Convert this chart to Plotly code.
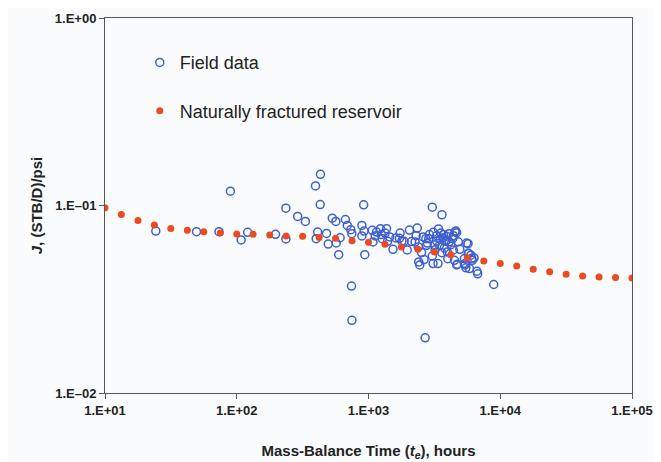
import plotly.graph_objects as go

# Naturally fractured reservoir model curve
nfr_time = [10, 13.3, 17.8, 23.7, 31.6, 42.2, 56.2, 75.0, 100, 133, 178, 237, 316, 422,
            562, 750, 1000, 1334, 1778, 2371, 3162, 4217, 5623, 7499, 10000, 13335,
            17783, 23714, 31623, 42170, 56234, 74989, 100000]
nfr_j = [0.0972, 0.0896, 0.0832, 0.0786, 0.0755, 0.0737, 0.0725, 0.0713, 0.0705, 0.0702,
         0.0696, 0.0688, 0.0685, 0.0676, 0.0668, 0.0649, 0.0636, 0.0621, 0.0601, 0.0584,
         0.0565, 0.0547, 0.0527, 0.0506, 0.0490, 0.0476, 0.0457, 0.0443, 0.0430, 0.0421,
         0.0416, 0.0413, 0.0411]

# Field data
field_time = [24.3, 49.5, 73.3, 89.5, 108, 121, 197, 236, 236, 290, 332, 396, 401, 411,
              432, 430, 480, 495, 531, 565, 569, 594, 609, 668, 690, 734, 748, 743, 748,
              891, 891, 919, 937, 925, 1068, 1081, 1123, 1151, 1233, 1272, 1337, 1371,
              1397, 1534, 1613, 1738, 1717, 1793, 1862, 1969, 2045, 2123, 2259, 2346,
              2389, 2405, 2450, 2528, 2641, 2691, 2725, 2759, 2864, 3049, 3049, 3090,
              3185, 3288, 3369, 3454, 3542, 3609, 3677, 3770, 3841, 3914, 3963, 4088,
              4218, 4352, 4490, 4603, 4660, 4720, 4932, 5347, 5415, 5483, 5691, 5763,
              5836, 5984, 6136, 6330, 6655, 6740, 8925,
              2900, 3100, 3300, 3500, 3700, 3900, 4100, 2600, 2800, 3200, 3600, 4000,
              2300, 1250, 1450, 4400, 4800, 3400, 4539, 5559, 5714, 6070, 4667, 5400, 4400]
field_j = [0.0731, 0.0725, 0.0725, 0.1192, 0.0655, 0.0719, 0.0702, 0.0968, 0.0663, 0.0874,
           0.0822, 0.1272, 0.0665, 0.0722, 0.1467, 0.1012, 0.0710, 0.0623, 0.0856, 0.0822,
           0.0631, 0.0547, 0.0673, 0.0842, 0.0783, 0.0743, 0.0707, 0.0372, 0.0244, 0.0783,
           0.0688, 0.1008, 0.0547, 0.0731, 0.0737, 0.0639, 0.0688, 0.0722, 0.0752, 0.0665,
           0.0713, 0.0752, 0.0644, 0.0584, 0.0671, 0.0713, 0.0668, 0.0646, 0.0644, 0.0579,
           0.0740, 0.0642, 0.0639, 0.0758, 0.0601, 0.0500, 0.0482, 0.0561, 0.0515, 0.0197,
           0.0665, 0.0613, 0.0665, 0.0980, 0.0538, 0.0490, 0.0618, 0.0646, 0.0490, 0.0613,
           0.0713, 0.0892, 0.0671, 0.0594, 0.0644, 0.0685, 0.0565, 0.0707, 0.0618, 0.0665,
           0.0510, 0.0731, 0.0716, 0.0486, 0.0584, 0.0521, 0.0490, 0.0465, 0.0626, 0.0554,
           0.0461, 0.0543, 0.0510, 0.0525, 0.0446, 0.0432, 0.0379,
           0.0700, 0.0720, 0.0690, 0.0660, 0.0700, 0.0650, 0.0640, 0.0680, 0.0630, 0.0580,
           0.0560, 0.0520, 0.0690, 0.0700, 0.0680, 0.0690, 0.0640, 0.0750, 0.0725, 0.0630,
           0.0556, 0.0523, 0.0482, 0.0482, 0.0579]

x_tickvals = [10, 100, 1000, 10000, 100000]
x_ticktext = ["1.E+01", "1.E+02", "1.E+03", "1.E+04", "1.E+05"]
y_tickvals = [1, 0.1, 0.01]
y_ticktext = ["1.E+00", "1.E\u201301", "1.E\u201302"]

FONT = "Liberation Sans, Arial, sans-serif"
BG = "#fafbfd"

fig = go.Figure()
fig.add_trace(go.Scatter(
    x=field_time, y=field_j, mode="markers", name="Field data",
    legendgroup="a", legendrank=1,
    marker=dict(symbol="circle-open", size=8, color="#3e5fd0", line=dict(width=1.5, color="#3e5fd0")),
))
fig.add_trace(go.Scatter(
    x=nfr_time, y=nfr_j, mode="markers", name="Naturally fractured reservoir",
    legendgroup="b", legendrank=2,
    marker=dict(symbol="circle", size=7, color="#ec4a22"),
))

fig.update_layout(
    width=653, height=454,
    margin=dict(l=97, r=29, t=10, b=69),
    paper_bgcolor=BG, plot_bgcolor=BG,
    font=dict(family=FONT, color="#222"),
    showlegend=True,
    legend=dict(x=0.066, y=0.93, xanchor="left", yanchor="top",
                bgcolor="rgba(0,0,0,0)", font=dict(size=18, color="#222"),
                tracegroupgap=22, itemsizing="trace"),
    xaxis=dict(type="log", range=[1, 5], tickvals=x_tickvals, ticktext=x_ticktext,
               automargin=False,
               showgrid=False, zeroline=False, showline=True, linecolor="#555", linewidth=1,
               mirror=True, ticks="outside", ticklen=5, tickcolor="#555",
               tickfont=dict(size=13, family=FONT, color="#222", weight="bold"),
               title=dict(text="Mass-Balance Time (<i>t</i><sub><i>e</i></sub>), hours",
                          font=dict(size=15, family=FONT, color="#222", weight="bold"),
                          standoff=28)),
    yaxis=dict(type="log", range=[-2, 0], tickvals=y_tickvals, ticktext=y_ticktext,
               automargin=False,
               showgrid=False, zeroline=False, showline=True, linecolor="#555", linewidth=1,
               mirror=True, ticks="outside", ticklen=5, tickcolor="#555",
               tickfont=dict(size=13, family=FONT, color="#222", weight="bold"),
               title=dict(text="<i>J</i>, (STB/D)/psi",
                          font=dict(size=15, family=FONT, color="#222", weight="bold"),
                          standoff=8)),
)

fig.write_html("out.html")
